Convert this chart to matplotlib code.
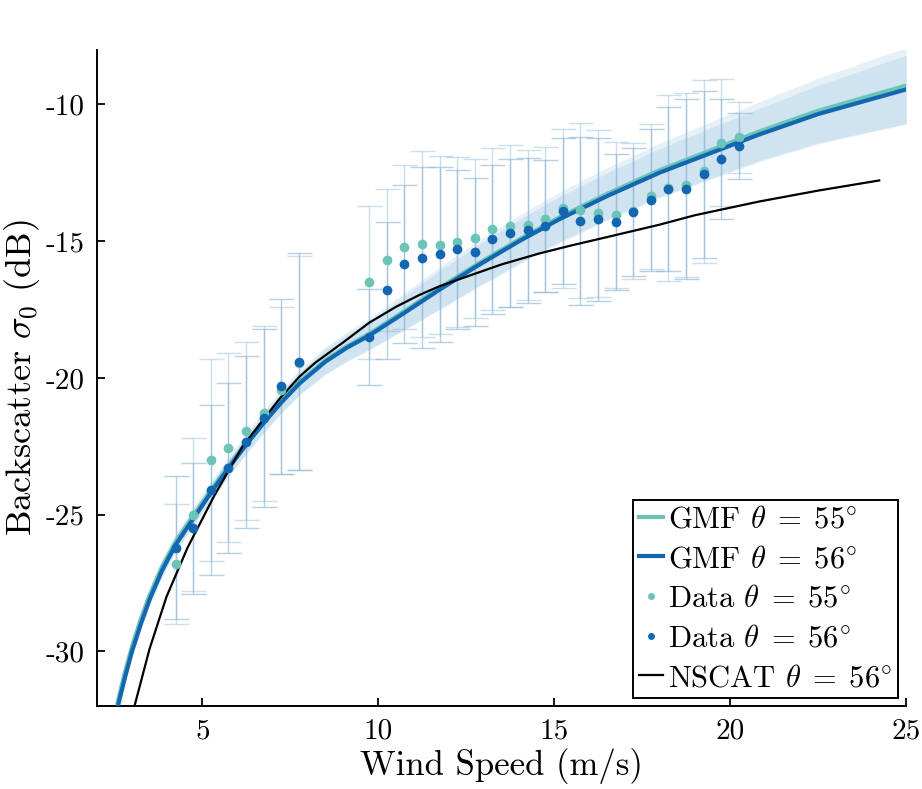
import matplotlib
matplotlib.use("Agg")
import matplotlib.pyplot as plt
from matplotlib.lines import Line2D

plt.rcParams["font.family"] = "serif"
plt.rcParams["font.serif"] = ["cmr10", "DejaVu Serif"]
plt.rcParams["mathtext.fontset"] = "cm"
plt.rcParams["axes.unicode_minus"] = False
plt.rcParams["axes.formatter.use_mathtext"] = True

# binned observations, theta = 55 / 56 deg
wind_bins = [4.24, 4.74, 5.24, 5.74, 6.24, 6.74, 7.24, 7.74, 9.74, 10.24,
             10.74, 11.24, 11.74, 12.24, 12.74, 13.24, 13.74, 14.24, 14.74, 15.24,
             15.74, 16.24, 16.74, 17.24, 17.74, 18.24, 18.74, 19.24, 19.74, 20.24]
sigma_55 = [-26.8, -25.0, -23.0, -22.55, -21.95, -21.3, -20.45, -19.45, -16.5, -15.7,
            -15.2, -15.1, -15.15, -15.04, -14.9, -14.56, -14.45, -14.4, -14.2, -13.8,
            -13.87, -13.98, -14.05, -13.9, -13.36, -13.05, -12.95, -12.45, -11.4, -11.2]
err_55 = [2.2, 2.8, 3.7, 3.45, 3.25, 3.2, 3.05, 3.9, 2.8, 2.6,
          3.0, 3.4, 3.25, 3.1, 2.9, 2.96, 2.95, 2.75, 2.66, 2.9,
          3.2, 3.05, 2.66, 2.5, 2.66, 3.4, 3.35, 3.35, 2.33, 1.3]
sigma_56 = [-26.2, -25.5, -24.1, -23.3, -22.34, -21.46, -20.3, -19.4, -18.5, -16.8,
            -15.84, -15.6, -15.47, -15.3, -15.4, -14.93, -14.7, -14.6, -14.45, -13.9,
            -14.27, -14.2, -14.3, -13.94, -13.5, -13.1, -13.1, -12.55, -12.0, -11.53]
err_56 = [2.6, 2.4, 3.1, 3.1, 3.15, 3.25, 3.2, 3.95, 1.75, 2.5,
          2.9, 3.3, 3.2, 2.9, 2.7, 2.73, 2.7, 2.65, 2.4, 2.66,
          3.07, 2.98, 2.5, 2.35, 2.6, 3.0, 3.3, 3.05, 2.18, 1.2]

# fitted GMF curves and their uncertainty half-widths
gmf_wind = [2.6, 2.8, 3.0, 3.25, 3.5, 3.85, 4.24, 4.74, 5.24, 5.74,
            6.24, 6.74, 7.24, 7.76, 8.5, 9.1, 9.74, 10.74, 11.73, 12.75,
            14.0, 15.14, 16.5, 17.98, 19.5, 20.82, 22.5, 25.0]
gmf_56 = [-32.0, -30.95, -30.0, -29.0, -28.1, -27.05, -26.1, -25.15, -24.2, -23.3,
          -22.45, -21.65, -20.9, -20.2, -19.4, -18.9, -18.45, -17.62, -16.78, -15.95,
          -15.0, -14.2, -13.35, -12.5, -11.75, -11.1, -10.35, -9.45]
gmf_55 = [-31.85, -30.8, -29.85, -28.85, -27.97, -26.93, -26.0, -25.05, -24.12, -23.23,
          -22.39, -21.6, -20.85, -20.15, -19.36, -18.86, -18.4, -17.57, -16.73, -15.9,
          -14.95, -14.14, -13.28, -12.42, -11.66, -11.0, -10.24, -9.32]
spread_56 = [0.2, 0.2, 0.2, 0.21, 0.22, 0.24, 0.25, 0.27, 0.29, 0.31,
             0.33, 0.35, 0.38, 0.41, 0.45, 0.48, 0.5, 0.6, 0.7, 0.75,
             0.8, 0.82, 0.85, 0.88, 0.92, 0.95, 1.05, 1.25]
spread_55 = [0.25, 0.25, 0.25, 0.26, 0.27, 0.29, 0.3, 0.32, 0.34, 0.36,
             0.38, 0.4, 0.43, 0.46, 0.5, 0.54, 0.58, 0.68, 0.78, 0.84,
             0.9, 0.93, 0.96, 1.0, 1.05, 1.1, 1.2, 1.4]

# NSCAT model, theta = 56 deg
nscat_wind = [3.07, 3.5, 3.98, 4.58, 5.34, 6.14, 7.2, 7.76, 8.2, 9.0,
              9.74, 10.5, 11.16, 11.73, 12.5, 13.5, 14.57, 15.5, 16.5, 17.98,
              19.0, 20.82, 22.5, 24.23]
nscat_56 = [-32.0, -29.9, -28.0, -26.2, -24.3, -22.5, -20.75, -19.95, -19.45, -18.7,
            -17.98, -17.4, -16.97, -16.65, -16.3, -15.85, -15.45, -15.15, -14.85, -14.4,
            -14.05, -13.55, -13.15, -12.78]

x_ticks = [5, 10, 15, 20, 25]
y_ticks = [-30, -25, -20, -15, -10]

TEAL = "#6cc4b8"
BLUE = "#1267b0"
BAND = "#9cc6e2"
BAR = "#8fb8d8"

fig = plt.figure(figsize=(9.22, 7.89), dpi=100)
ax = fig.add_axes([0.105, 0.105, 0.878, 0.832])

lo55 = [c - s for c, s in zip(gmf_55, spread_55)]
hi55 = [c + s for c, s in zip(gmf_55, spread_55)]
lo56 = [c - s for c, s in zip(gmf_56, spread_56)]
hi56 = [c + s for c, s in zip(gmf_56, spread_56)]
ax.fill_between(gmf_wind, lo55, hi55, color=BAND, alpha=0.25, lw=0, zorder=1)
ax.fill_between(gmf_wind, lo56, hi56, color=BAND, alpha=0.3, lw=0, zorder=1)

ax.errorbar(wind_bins, sigma_55, yerr=err_55, fmt="none", ecolor=BAR,
            elinewidth=1.0, capsize=9, capthick=1.0, alpha=0.45, zorder=2)
ax.errorbar(wind_bins, sigma_56, yerr=err_56, fmt="none", ecolor=BAR,
            elinewidth=1.0, capsize=9, capthick=1.0, alpha=0.65, zorder=2)

ax.plot(gmf_wind, gmf_55, color=TEAL, lw=3.4, zorder=3)
ax.plot(gmf_wind, gmf_56, color=BLUE, lw=3.0, zorder=4)
ax.plot(nscat_wind, nscat_56, color="black", lw=1.6, zorder=5)

ax.plot(wind_bins, sigma_55, "o", color=TEAL, ms=7, mec="none", zorder=6)
ax.plot(wind_bins, sigma_56, "o", color=BLUE, ms=7, mec="none", zorder=7)

ax.set_xlim(2, 25)
ax.set_ylim(-32, -8)
ax.set_xticks(x_ticks)
ax.set_xticklabels([str(t) for t in x_ticks])
ax.set_yticks(y_ticks)
ax.set_yticklabels([str(t) for t in y_ticks])
ax.tick_params(direction="in", length=6, width=1.3, labelsize=21)
ax.tick_params(axis="y", pad=9)
ax.tick_params(axis="x", pad=9)
for side in ("top", "right"):
    ax.spines[side].set_visible(False)
for side in ("left", "bottom"):
    ax.spines[side].set_linewidth(1.4)

ax.set_xlabel("Wind Speed (m/s)", fontsize=25, labelpad=2)
ax.set_ylabel(r"Backscatter $\sigma_0$ (dB)", fontsize=26)
ax.yaxis.set_label_coords(-0.068, 0.5)

handles = [
    Line2D([], [], color=TEAL, lw=3),
    Line2D([], [], color=BLUE, lw=3),
    Line2D([], [], color=TEAL, marker="o", ls="none", ms=5, mec="none"),
    Line2D([], [], color=BLUE, marker="o", ls="none", ms=5, mec="none"),
    Line2D([], [], color="black", lw=1.6),
]
labels = [r"GMF $\theta\;=\;55^{\circ}$", r"GMF $\theta\;=\;56^{\circ}$",
          r"Data $\theta\;=\;55^{\circ}$", r"Data $\theta\;=\;56^{\circ}$",
          r"NSCAT $\theta\;=\;56^{\circ}$"]
leg = ax.legend(handles, labels, loc="lower right", bbox_to_anchor=(0.99, 0.012),
                fontsize=22, fancybox=False, framealpha=1, edgecolor="black",
                handlelength=0.8, handletextpad=0.15, labelspacing=0.4,
                borderpad=0.2, borderaxespad=0)
leg.get_frame().set_linewidth(1.4)

fig.savefig("out.png", dpi=100)
